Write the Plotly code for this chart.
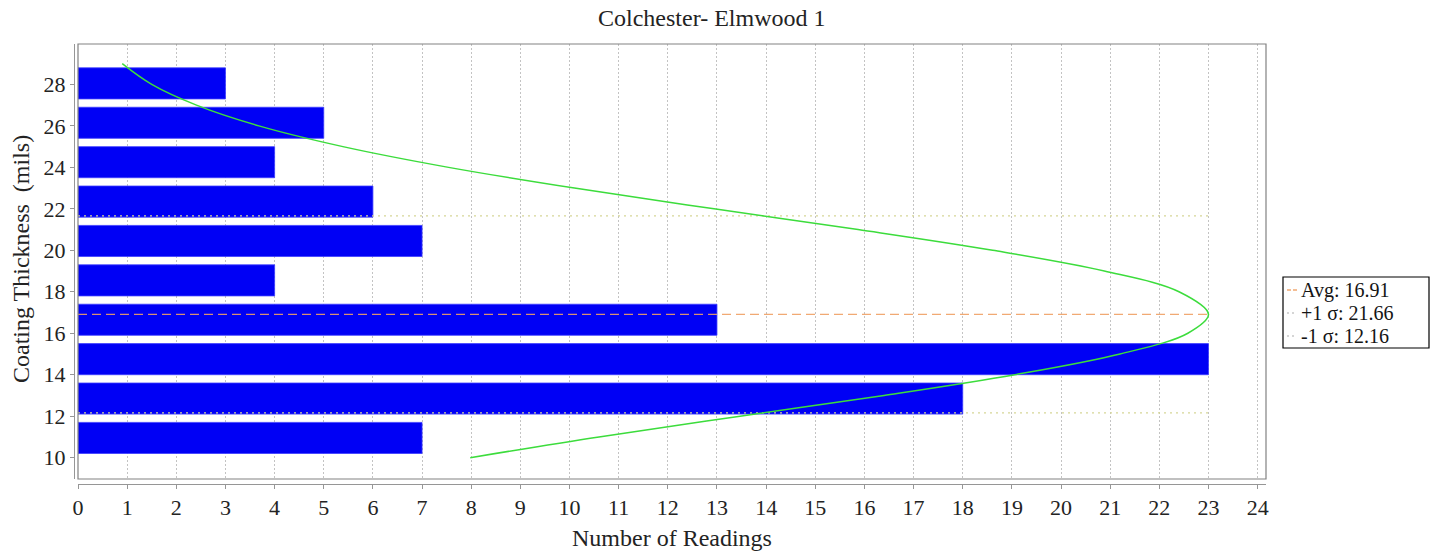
import plotly.graph_objects as go

# Histogram of coating thickness readings (bins of 1.9 mils from 10 to 29)
bin_centers = [10.95, 12.85, 14.75, 16.65, 18.55, 20.45, 22.35, 24.25, 26.15, 28.05]
counts = [7, 18, 23, 13, 4, 7, 6, 4, 5, 3]
bar_width = 1.5

# Fitted normal curve (thickness vs. scaled frequency)
curve_thickness = [10, 11, 12, 13, 14, 15, 16, 16.91, 18, 19, 20, 21, 22, 23, 24, 25, 26, 27, 28, 29]
curve_readings = [7.98, 10.6, 13.47, 16.4, 19.06, 21.2, 22.58, 23.0, 22.4, 20.88, 18.61,
                  15.87, 12.94, 10.1, 7.54, 5.39, 3.68, 2.41, 1.5, 0.9]

avg = 16.91
plus_sigma = 21.66
minus_sigma = 12.16

x_ticks = list(range(0, 25))
y_ticks = list(range(10, 30, 2))

FONT = "Liberation Serif"
TEXT = "rgb(35,35,35)"
AVG_COLOR = "rgba(240,160,100,0.9)"
SIGMA_COLOR = "rgb(214,214,150)"

# pixel geometry of the figure
W, H = 1440, 551
ML, MR, MT, MB = 74, 174, 44, 67
PW, PH = W - ML - MR, H - MT - MB


def px(x):
    return (x - ML) / PW


def py(y):
    return (H - MB - y) / PH


fig = go.Figure()

fig.add_trace(go.Bar(
    x=counts, y=bin_centers, orientation="h", width=bar_width,
    marker=dict(color="rgb(0,0,245)", line=dict(color="rgb(60,60,255)", width=0.8)),
    showlegend=False, hoverinfo="x+y",
))

line_end = [0, max(counts)]
for val, color, dash in [(plus_sigma, SIGMA_COLOR, "2px,4px"),
                         (minus_sigma, SIGMA_COLOR, "2px,4px"),
                         (avg, AVG_COLOR, "9px,5px")]:
    fig.add_trace(go.Scatter(
        x=line_end, y=[val, val], mode="lines",
        line=dict(color=color, width=1.3, dash=dash),
        showlegend=False, hoverinfo="skip",
    ))

fig.add_trace(go.Scatter(
    x=curve_readings, y=curve_thickness, mode="lines",
    line=dict(color="rgb(60,220,60)", width=1.5, shape="spline"),
    showlegend=False, hoverinfo="skip",
))

# Plot frame
fig.add_shape(type="rect", xref="x domain", yref="y domain", x0=0, x1=1, y0=0, y1=1,
              line=dict(color="rgb(130,130,130)", width=1.2), layer="above")

# Legend box drawn by hand to keep short line samples
legend_items = [
    (f"Avg: {avg:.2f}", AVG_COLOR, "4px,2px"),
    (f"+1 \u03c3: {plus_sigma:.2f}", "rgb(200,200,200)", "2px,3px"),
    (f"-1 \u03c3: {minus_sigma:.2f}", "rgb(200,200,200)", "2px,3px"),
]
fig.add_shape(type="rect", xref="paper", yref="paper",
              x0=px(1283), x1=px(1429), y0=py(348), y1=py(277),
              line=dict(color="black", width=1.2), fillcolor="white")
for i, (label, color, dash) in enumerate(legend_items):
    yy = py(290 + 23 * i)
    fig.add_shape(type="line", xref="paper", yref="paper",
                  x0=px(1287), x1=px(1297), y0=yy, y1=yy,
                  line=dict(color=color, width=1.3, dash=dash))
    fig.add_annotation(xref="paper", yref="paper", x=px(1300), y=yy,
                       text=label, showarrow=False, xanchor="left", yanchor="middle",
                       borderpad=0,
                       font=dict(family=FONT, size=20, color="rgb(20,20,20)"))

# Title and axis titles
fig.add_annotation(xref="paper", yref="paper", x=px(711), y=py(18), text="Colchester- Elmwood 1",
                   showarrow=False, xanchor="center", yanchor="middle",
                   font=dict(family=FONT, size=24, color=TEXT))
fig.add_annotation(xref="paper", yref="paper", x=px(672), y=py(538), text="Number of Readings",
                   showarrow=False, xanchor="center", yanchor="middle",
                   font=dict(family=FONT, size=24, color=TEXT))
fig.add_annotation(xref="paper", yref="paper", x=px(21), y=py(259),
                   text="Coating Thickness\u00a0 (mils)",
                   showarrow=False, xanchor="center", yanchor="middle", textangle=-90,
                   font=dict(family=FONT, size=24, color=TEXT))

fig.update_layout(
    width=W, height=H,
    margin=dict(l=ML, r=MR, t=MT, b=MB),
    paper_bgcolor="white", plot_bgcolor="white",
    font=dict(family=FONT, size=22, color=TEXT),
    xaxis=dict(
        range=[0, 24.17], domain=[4 / PW, 1], tickvals=x_ticks, anchor="free", position=0,
        showgrid=True, gridcolor="rgb(195,195,195)", griddash="2px,2px", gridwidth=1,
        showline=True, linecolor="rgb(150,150,150)", linewidth=1,
        ticks="outside", ticklen=4, tickcolor="rgb(150,150,150)",
        zeroline=False, tickfont=dict(size=22),
    ),
    yaxis=dict(
        range=[8.97, 29.95], domain=[5 / PH, 1], tickvals=y_ticks, anchor="free", position=0,
        showgrid=False, showline=True, linecolor="rgb(150,150,150)", linewidth=1,
        ticks="outside", ticklen=4, tickcolor="rgb(150,150,150)",
        zeroline=False, tickfont=dict(size=22),
    ),
    bargap=0.2,
)

fig.write_html("out.html")
